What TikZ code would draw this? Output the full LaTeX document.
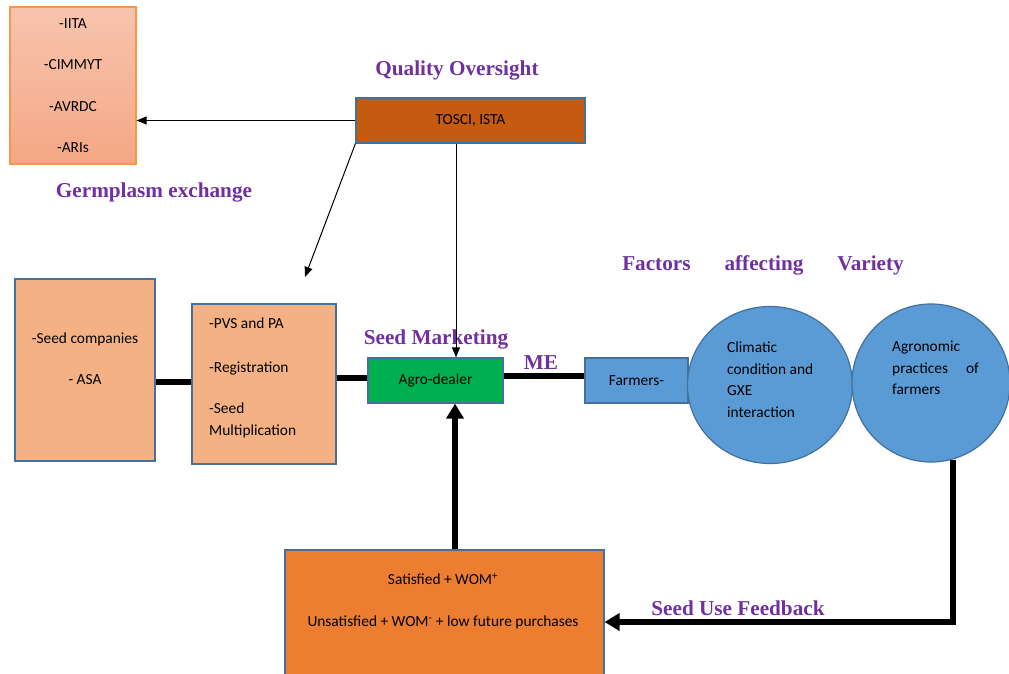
\documentclass[tikz,border=0pt]{standalone}
\usepackage{fontspec}
\setmainfont{Carlito}
\newfontfamily\hdfont{Liberation Serif}
\usetikzlibrary{arrows.meta,shapes.geometric,calc}
\definecolor{hdpurple}{HTML}{7030A0}
\definecolor{bordblue}{HTML}{41719C}
\definecolor{germtop}{HTML}{F8C4AE}
\definecolor{germbot}{HTML}{F4A785}
\definecolor{germbord}{HTML}{F79646}
\definecolor{tosfill}{HTML}{C55A11}
\definecolor{peach}{HTML}{F4B183}
\definecolor{agrogreen}{HTML}{00B050}
\definecolor{skyblue}{HTML}{5B9BD5}
\definecolor{fborange}{HTML}{ED7D31}
\tikzset{
  boxstyle/.style={draw=bordblue,line width=1.2pt,rectangle,inner sep=0pt},
  heading/.style={font=\hdfont\bfseries\fontsize{21.2}{25}\selectfont,text=hdpurple,inner sep=0pt},
  bodytext/.style={font=\fontsize{15.4}{18}\selectfont,inner sep=0pt},
  thinarrow/.style={line width=1pt,-{Triangle[length=10pt,width=8pt]}},
  thickline/.style={line width=6pt},
  thickarrow/.style={line width=6pt,-{Triangle[length=15pt,width=17pt]}},
  circstyle/.style={draw=bordblue,line width=1.2pt,fill=skyblue,ellipse,inner sep=0pt}
}
\begin{document}
\begin{tikzpicture}[x=1pt,y=-1pt]
\useasboundingbox (0,0) rectangle (1009,674);
% germplasm box
\node[draw=germbord,line width=1.2pt,top color=germtop,bottom color=germbot,rectangle,
      minimum width=126pt,minimum height=157pt,align=center,
      font=\fontsize{15.4}{41.3}\selectfont] (germ) at (73,85.5)
      {-IITA\\-CIMMYT\\-AVRDC\\-ARIs};
\node[heading] (ghd) at (154,192) {Germplasm exchange};
% TOSCI
\node[heading] (qhd) at (457,70) {Quality Oversight};
\node[boxstyle,fill=tosfill,minimum width=229pt,minimum height=45pt,bodytext] (tos) at (470.5,120.5) {TOSCI, ISTA};
% seed companies
\node[boxstyle,fill=peach,minimum width=140pt,minimum height=182pt] (sc) at (85,370) {};
\node[bodytext,align=center,font=\fontsize{15.4}{41}\selectfont] (sctext) at (85,359) {-Seed companies\\- ASA};
% box 2
\node[boxstyle,fill=peach,minimum width=144pt,minimum height=160pt] (b2) at (264,384) {};
\node[bodytext,align=left,anchor=north west,font=\fontsize{15.4}{22}\selectfont] (b2text) at (209,318)
   {-PVS and PA\\[22pt]-Registration\\[19pt]-Seed\\Multiplication};
% agro-dealer
\node[heading] (smhd) at (436,339) {Seed Marketing};
\node[boxstyle,fill=agrogreen,minimum width=135pt,minimum height=45pt,bodytext] (agro) at (435.5,380.5) {Agro-dealer};
% farmers
\node[heading] (mehd) at (541,363) {ME};
\node[boxstyle,fill=skyblue,minimum width=103pt,minimum height=45pt,bodytext] (farm) at (636.5,380.5) {Farmers-};
% circles
\node[heading] (fhd) at (763,265) {Factors\hspace{34pt}affecting\hspace{34pt}Variety};
\node[circstyle,minimum width=165pt,minimum height=157pt] (c1) at (770,385) {};
\node[bodytext,align=left,anchor=north west,font=\fontsize{15.4}{21.5}\selectfont] (c1text) at (727,342)
   {Climatic\\condition and\\GXE\\interaction};
\node[circstyle,minimum width=158pt,minimum height=158pt] (c2) at (931,383) {};
\node[bodytext,align=left,anchor=north west,font=\fontsize{15.4}{21.5}\selectfont] (c2text) at (892,341)
   {Agronomic\\practices\hspace{18pt}of\\farmers};
% feedback box
\node[boxstyle,fill=fborange,minimum width=319pt,minimum height=127pt] (fb) at (444.5,613.5) {};
\node[bodytext,align=center,font=\fontsize{15.4}{42}\selectfont] (fbtext) at (443,601)
   {Satisfied + WOM\textsuperscript{+}\\Unsatisfied + WOM\textsuperscript{-} + low future purchases};
\node[heading] (sufhd) at (738,608) {Seed Use Feedback};
% connectors
\draw[thinarrow] (tos.west) -- (germ.east |- tos.west);
\coordinate (diagend) at (305,277);
\draw[thinarrow] (tos.south west) -- (diagend);
\coordinate (agtop) at ([xshift=20.5pt]agro.north);
\draw[thinarrow] (tos.south -| agtop) -- (agtop);
\draw[thickline] (sc.east |- 0,382) -- (b2.west |- 0,382);
\draw[thickline] (b2.east |- 0,378) -- (agro.west |- 0,378);
\draw[thickline] (agro.east |- 0,376) -- (farm.west |- 0,376);
\coordinate (agbot) at ([xshift=19.5pt]agro.south);
\draw[thickarrow] (fb.north -| agbot) -- (agbot);
\coordinate (fbin) at (fb.east |- 0,622);
\draw[thickarrow] (c2.-74) |- (fbin);
\end{tikzpicture}
\end{document}
